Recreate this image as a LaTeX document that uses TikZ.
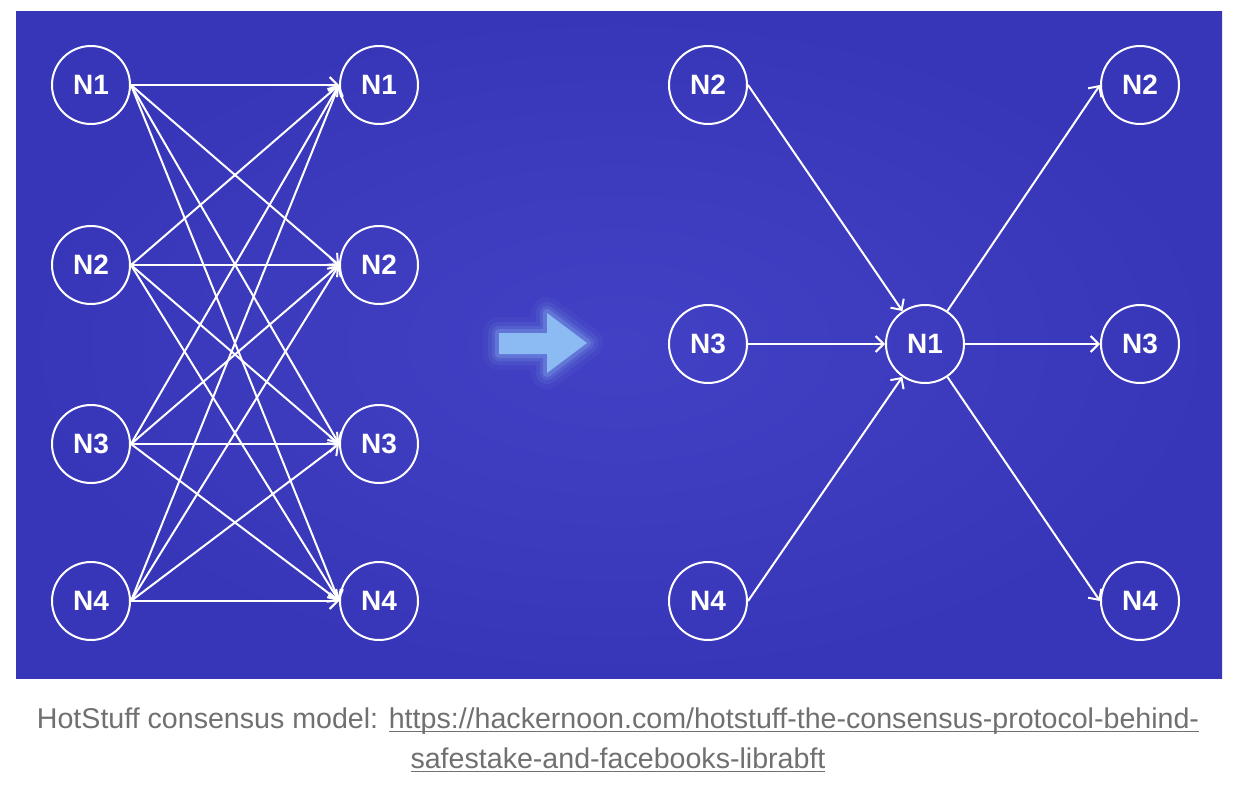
\documentclass[tikz,border=0pt]{standalone}
\usepackage{fontspec}
\setmainfont{Liberation Sans}
\usetikzlibrary{arrows.meta}
\definecolor{bgblue}{RGB}{56,54,184}
\definecolor{bglight}{RGB}{66,64,196}
\definecolor{glowblue}{RGB}{140,186,242}
\definecolor{capgray}{RGB}{112,112,112}
\newcommand\ulink[1]{\leavevmode\setbox0\hbox{#1}\rlap{\rule[-1.8pt]{\wd0}{0.6pt}}\box0}
\begin{document}
\begin{tikzpicture}[x=0.5pt,y=-0.5pt,
  nd/.style={circle,draw=white,line width=1pt,minimum size=39pt,inner sep=0pt,
    text=white,font=\bfseries\fontsize{14}{14}\selectfont},
  msg/.style={draw=white,line width=1pt,-{Straight Barb[length=4pt,width=8pt]}},
  captext/.style={text=capgray,inner sep=0pt,font=\fontsize{14.3}{14.3}\selectfont}]
\useasboundingbox (0,0) rectangle (1236,786);
\shade[inner color=bglight,outer color=bgblue] (16,12) rectangle (1222,678);
% all-to-all
\foreach \i/\y in {1/85,2/265,3/444,4/601}{
  \node[nd] (a\i) at (91,\y) {N\i};
  \node[nd] (b\i) at (379,\y) {N\i};
}
\foreach \i in {1,...,4}
  \foreach \j in {1,...,4}
    \draw[msg] (a\i.east) -- (b\j.west);
% big arrow
\foreach \w/\o in {16/0.06,11/0.1,7/0.15,4/0.25}
  \draw[glowblue,line width=\w pt,opacity=\o,line join=round]
    (499,333) -- (547,333) -- (547,313) -- (587,343) -- (547,373) -- (547,354) -- (499,354) -- cycle;
\fill[glowblue] (499,333) -- (547,333) -- (547,313) -- (587,343) -- (547,373) -- (547,354) -- (499,354) -- cycle;
% leader
\node[nd] (c1) at (925,344) {N1};
\foreach \k/\y in {2/85,3/344,4/601}{
  \node[nd] (p\k) at (708,\y) {N\k};
  \node[nd] (q\k) at (1140,\y) {N\k};
}
\foreach \k in {2,3,4}{
  \draw[msg] (p\k.east) -- (c1);
  \draw[msg] (c1) -- (q\k.west);
}
\node[captext] (cap1) at (618,721) {HotStuff consensus model: \ulink{https://hackernoon.com/hotstuff-the-consensus-protocol-behind-}};
\node[captext] (cap2) at (618,760) {\ulink{safestake-and-facebooks-librabft}};
\end{tikzpicture}
\end{document}
